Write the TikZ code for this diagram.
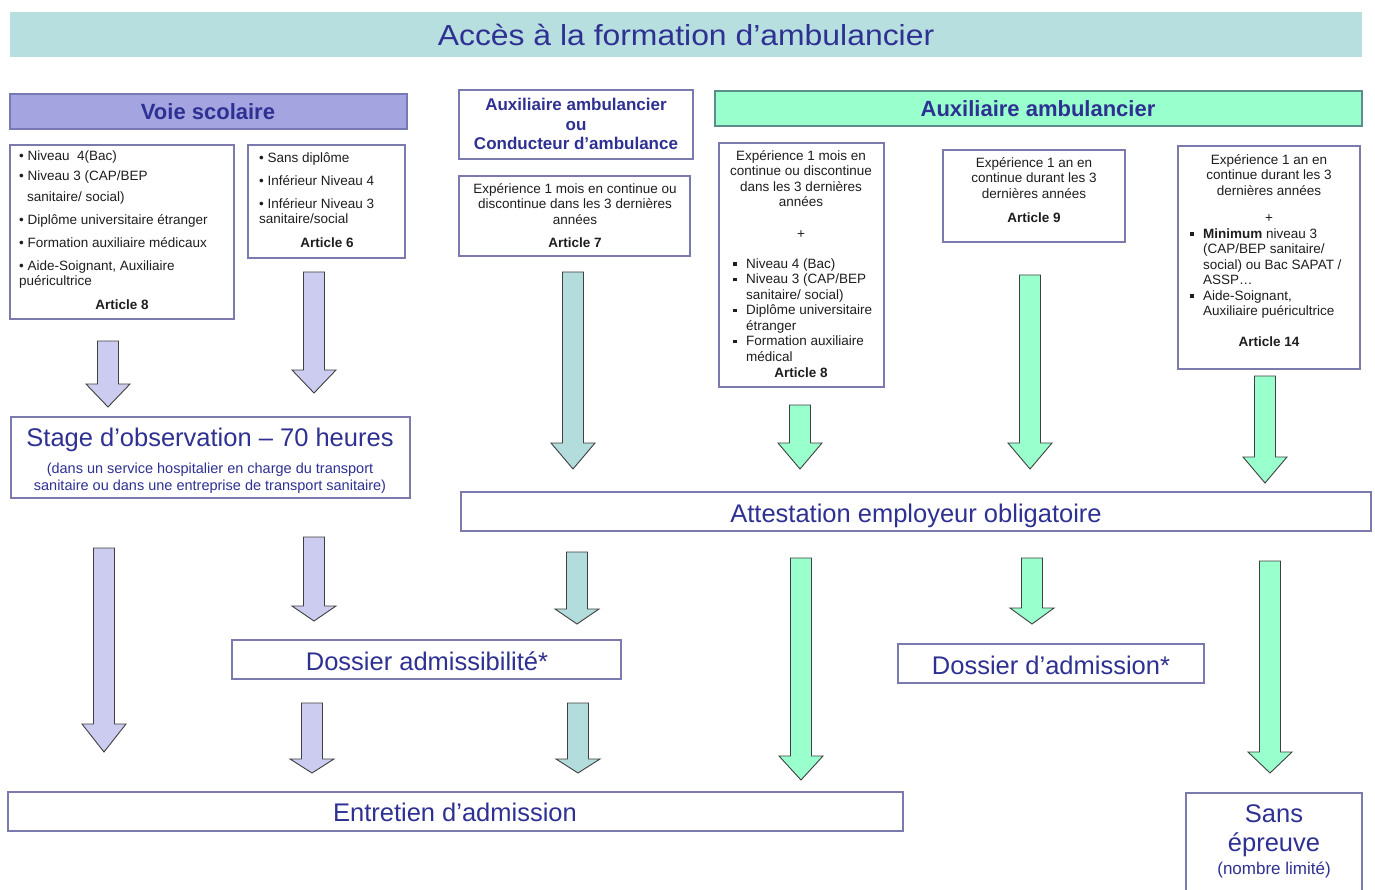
\documentclass[tikz,border=0pt]{standalone}
\usepackage{fontspec}
\usepackage{graphicx}
\setmainfont{Liberation Sans}
\definecolor{titlebg}{HTML}{B8DFE0}
\definecolor{navy}{HTML}{2E3192}
\definecolor{lavhead}{HTML}{A4A4E0}
\definecolor{lavborder}{HTML}{7878B4}
\definecolor{boxborder}{HTML}{7A7AAE}
\definecolor{lavarrow}{HTML}{CCCCF0}
\definecolor{tealarrow}{HTML}{B3DCDC}
\definecolor{greenfill}{HTML}{99FFCC}
\definecolor{greenborder}{HTML}{5E8C8C}
\definecolor{arrowline}{HTML}{404040}
\definecolor{bodytext}{HTML}{1E1E1E}
\newcommand\sqb{\makebox[13pt][l]{\rule[2.5pt]{3.5pt}{3.5pt}}}
\newcommand\hind{\hspace*{13pt}}
\newcommand\blockarrow[5]{%
  \filldraw[arrowstyle, fill=#5] ({#1-10.5},#2) -- ({#1+10.5},#2) -- ({#1+10.5},#3) -- ({#1+22},#3) -- (#1,#4) -- ({#1-22},#3) -- ({#1-10.5},#3) -- cycle;}
\begin{document}
\begin{tikzpicture}[x=1pt,y=-1pt,
  box/.style={draw=boxborder, line width=1.1pt, fill=white, inner sep=0, outer sep=0, anchor=north west},
  arrowstyle/.style={draw=arrowline, line width=0.9pt, line join=miter},
  txt/.style={inner sep=0, anchor=base, text=bodytext, font=\fontsize{13.5}{15.5}\selectfont},
  big/.style={inner sep=0, anchor=base, text=navy, font=\fontsize{25.5}{28}\selectfont},
  hdr/.style={inner sep=0, anchor=base, text=navy, font=\fontsize{22}{26}\selectfont\bfseries}]
\useasboundingbox (0,0) rectangle (1375,890);
\fill[white] (0,0) rectangle (1375,890);
% title
\node[fill=titlebg, minimum width=1352, minimum height=45, anchor=north west, inner sep=0, outer sep=0] (titlebar) at (10,12) {};
\node[inner sep=0, anchor=base, text=navy, font=\fontsize{29}{32}\selectfont] (title) at (686,46) {\scalebox{1.1}[1]{Accès à la formation d’ambulancier}};
% headers
\node[box, fill=lavhead, draw=lavborder, minimum width=397, minimum height=35] (voie) at (10,94) {};
\node[hdr] (voiet) at (208,119.5) {Voie scolaire};
\node[box, minimum width=234, minimum height=69] (auxcond) at (459,90) {};
\node[inner sep=0, anchor=base, text=navy, font=\fontsize{17}{19.5}\selectfont\bfseries] (auxcondt) at (576,111)
  {\parbox[t]{230pt}{\centering Auxiliaire ambulancier\\ou\\Conducteur d’ambulance}};
\node[box, fill=greenfill, draw=greenborder, minimum width=647, minimum height=35] (auxhead) at (715,91) {};
\node[hdr] (auxheadt) at (1038,117) {Auxiliaire ambulancier};
% condition boxes
\node[box, minimum width=224, minimum height=174] (boxA) at (10,145) {};
\node[txt, anchor=base west] (boxAt) at (19,160.5) {\parbox[t]{215pt}{\raggedright • Niveau\ \ 4(Bac)\\[4.5pt]• Niveau 3 (CAP/BEP\\[5.5pt]\hspace*{8pt}sanitaire/ social)\\[7.5pt]• Diplôme universitaire étranger\\[7.5pt]• Formation auxiliaire médicaux\\[7.5pt]• Aide-Soignant, Auxiliaire\\puéricultrice}};
\node[txt] (boxAa) at (122,309.5) {\textbf{Article 8}};
\node[box, minimum width=157, minimum height=113] (boxB) at (248,145) {};
\node[txt, anchor=base west] (boxBt) at (259,162.5) {\parbox[t]{145pt}{\raggedright • Sans diplôme\\[7.5pt]• Inférieur Niveau 4\\[7.5pt]• Inférieur Niveau 3\\sanitaire/social}};
\node[txt] (boxBa) at (327,247.5) {\textbf{Article 6}};
\node[box, minimum width=231, minimum height=80] (boxC) at (459,176) {};
\node[txt] (boxCt) at (575,193.5) {\parbox[t]{225pt}{\centering Expérience 1 mois en continue ou\\discontinue dans les 3 dernières\\années}};
\node[txt] (boxCa) at (575,247.5) {\textbf{Article 7}};
\node[box, minimum width=165, minimum height=244] (boxD) at (719,143) {};
\node[txt] (boxDt) at (801,160.5) {\parbox[t]{160pt}{\centering Expérience 1 mois en\\continue ou discontinue\\dans les 3 dernières\\années}};
\node[txt] (boxDp) at (801,238.5) {+};
\node[txt, anchor=base west] (boxDl) at (733,268.5) {\parbox[t]{148pt}{\raggedright\sqb Niveau 4 (Bac)\\\sqb Niveau 3 (CAP/BEP\\\hind sanitaire/ social)\\\sqb Diplôme universitaire\\\hind étranger\\\sqb Formation auxiliaire\\\hind médical}};
\node[txt] (boxDa) at (801,377.5) {\textbf{Article 8}};
\node[box, minimum width=182, minimum height=92] (boxE) at (943,150) {};
\node[txt] (boxEt) at (1034,167.5) {\parbox[t]{175pt}{\centering Expérience 1 an en\\continue durant les 3\\dernières années}};
\node[txt] (boxEa) at (1034,222.5) {\textbf{Article 9}};
\node[box, minimum width=182, minimum height=223] (boxF) at (1178,146) {};
\node[txt] (boxFt) at (1269,164.5) {\parbox[t]{175pt}{\centering Expérience 1 an en\\continue durant les 3\\dernières années}};
\node[txt] (boxFp) at (1269,222.5) {+};
\node[txt, anchor=base west] (boxFl) at (1190,238.5) {\parbox[t]{168pt}{\raggedright\sqb\textbf{Minimum} niveau 3\\\hind(CAP/BEP sanitaire/\\\hind social) ou Bac SAPAT /\\\hind ASSP…\\\sqb Aide-Soignant,\\\hind Auxiliaire puéricultrice}};
\node[txt] (boxFa) at (1269,346.5) {\textbf{Article 14}};
% stage / attestation
\node[box, minimum width=399, minimum height=81] (stage) at (11,417) {};
\node[big] (staget) at (210,446) {Stage d’observation – 70 heures};
\node[inner sep=0, anchor=base, text=navy, font=\fontsize{14.5}{17}\selectfont] (stages) at (210,473)
  {\parbox[t]{395pt}{\centering (dans un service hospitalier en charge du transport\\sanitaire ou dans une entreprise de transport sanitaire)}};
\node[box, minimum width=910, minimum height=39] (attest) at (461,492) {};
\node[big] (attestt) at (916,522) {Attestation employeur obligatoire};
% dossiers
\node[box, minimum width=389, minimum height=39] (dadm) at (232,640) {};
\node[big] (dadmt) at (427,670) {Dossier admissibilité*};
\node[box, minimum width=306, minimum height=39] (ddadm) at (898,644) {};
\node[big] (ddadmt) at (1051,674) {Dossier d’admission*};
% final
\node[box, minimum width=895, minimum height=39] (entretien) at (8,792) {};
\node[big] (entretient) at (455,821) {Entretien d’admission};
\node[box, minimum width=176, minimum height=120] (sans) at (1186,793) {};
\node[big] (sans1) at (1274,822) {Sans};
\node[big] (sans2) at (1274,851) {épreuve};
\node[inner sep=0, anchor=base, text=navy, font=\fontsize{17}{20}\selectfont] (sans3) at (1274,874) {(nombre limité)};
% arrows row 1
\blockarrow{108}{341}{384}{407}{lavarrow}
\blockarrow{314}{272}{370}{393}{lavarrow}
\blockarrow{573}{272}{443}{469}{tealarrow}
\blockarrow{800}{405}{443}{469}{greenfill}
\blockarrow{1030}{275}{443}{469}{greenfill}
\blockarrow{1265}{376}{457}{483}{greenfill}
% arrows row 2
\blockarrow{104}{548}{724}{752}{lavarrow}
\blockarrow{314}{537}{606}{621}{lavarrow}
\blockarrow{577}{552}{609}{624}{tealarrow}
\blockarrow{801}{558}{756}{780}{greenfill}
\blockarrow{1032}{558}{608}{624}{greenfill}
\blockarrow{1270}{561}{752}{773}{greenfill}
% arrows row 3
\blockarrow{312}{703}{759}{773}{lavarrow}
\blockarrow{578}{703}{759}{773}{tealarrow}
\end{tikzpicture}
\end{document}
